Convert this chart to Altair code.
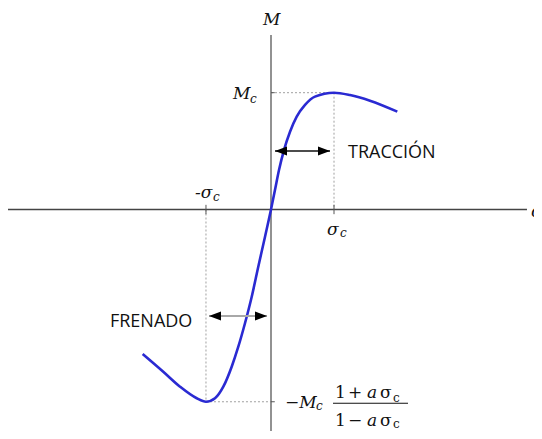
import altair as alt
import pandas as pd

# ---- curve (sigma in units of sigma_c, M in units of M_c)
sigma = [-2.037, -1.710, -1.444, -1.179, -1.032, -0.889, -0.757, -0.624, -0.519,
         -0.413, -0.306, -0.202, -0.095, 0.0, 0.063, 0.127, 0.206, 0.302, 0.408,
         0.540, 0.698, 1.0, 1.254, 1.571, 2.005]
moment = [-1.237, -1.389, -1.517, -1.616, -1.646, -1.616, -1.517, -1.346, -1.175,
          -0.974, -0.747, -0.490, -0.233, 0.0, 0.167, 0.338, 0.509, 0.666, 0.795,
          0.895, 0.966, 1.0, 0.980, 0.932, 0.838]

sigma_c_pos = 1.0
sigma_c_neg = -1.032
M_c = 1.0
M_min = -1.646

# annotation anchors (data units)
axis_x = [-4.1746, 4.063]
axis_y = [1.494, -1.8964]
trac_arrow = [0.063, 0.937, 0.501]
fren_arrow = [-0.984, -0.063, -0.912]

italic_text = ["M", "M", "-σ", "σ", "−M", "a", "a", "σ"]
italic_x = [-0.127, -0.603, -1.206, 0.889, 0.222, 1.524, 1.524, 4.127]
italic_y = [1.580, 0.946, 0.098, -0.218, -1.699, -1.616, -1.855, -0.064]

sub_text = ["c", "c", "c", "c"]
sub_x = [-0.333, -0.921, 1.095, 0.714]
sub_y = [0.912, 0.073, -0.235, -1.717]

reg_text = ["1", "+", "1", "−", "σ", "σ"]
reg_x = [1.016, 1.222, 1.016, 1.222, 1.730, 1.730]
reg_y = [-1.616, -1.616, -1.855, -1.855, -1.616, -1.855]
regsub_x = [1.937, 1.937]
regsub_y = [-1.648, -1.870]

label_text = ["TRACCIÓN", "FRENADO"]
label_x = [1.222, -2.556]
label_y = [0.438, -1.003]

frac_bar = [0.984, 2.175, -1.659]

W, H = 526, 423
xs = alt.Scale(domain=[-4.1746, 4.1746], nice=False, zero=False)
ys = alt.Scale(domain=[-1.8964, 1.7252], nice=False, zero=False)


def X(f):
    return alt.X(f, type="quantitative", scale=xs, axis=None)


def Y(f):
    return alt.Y(f, type="quantitative", scale=ys, axis=None)


def seg_layer(rows, **mk):
    df = pd.DataFrame(rows, columns=["x1", "y1", "x2", "y2"])
    return alt.Chart(df).mark_rule(**mk).encode(
        x=X("x1"), y=Y("y1"), x2="x2", y2="y2")


h_axis = seg_layer([[axis_x[0], 0, axis_x[1], 0]], color="#444444", strokeWidth=1.4)
v_axis = seg_layer([[0, axis_y[0], 0, axis_y[1]]], color="#777777", strokeWidth=1.6)

dotted = seg_layer([
    [sigma_c_pos, M_c, sigma_c_pos, 0],
    [0, M_c, sigma_c_pos, M_c],
    [sigma_c_neg, 0, sigma_c_neg, M_min],
    [sigma_c_neg, M_min, 0, M_min],
], color="#a0a0a0", strokeWidth=1, strokeDash=[2, 2])

ticks = seg_layer([
    [sigma_c_pos, 0.04, sigma_c_pos, -0.04],
    [sigma_c_neg, 0.04, sigma_c_neg, -0.04],
    [0, M_c, 0.06, M_c],
    [0, M_min, 0.06, M_min],
], color="#555555", strokeWidth=1)

bar = seg_layer([[frac_bar[0], frac_bar[2], frac_bar[1], frac_bar[2]]],
                color="#111111", strokeWidth=1.2)

arrow_t = seg_layer([[trac_arrow[0], trac_arrow[2], trac_arrow[1], trac_arrow[2]]],
                    color="#111111", strokeWidth=1.4)
arrow_f = seg_layer([[fren_arrow[0], fren_arrow[2], fren_arrow[1], fren_arrow[2]]],
                    color="#a8a8a8", strokeWidth=2)

HEAD = 6 / 63.0
left_heads = pd.DataFrame({"x": [trac_arrow[0] + HEAD, fren_arrow[0] + HEAD],
                           "y": [trac_arrow[2], fren_arrow[2]]})
right_heads = pd.DataFrame({"x": [trac_arrow[1] - HEAD, fren_arrow[1] - HEAD],
                            "y": [trac_arrow[2], fren_arrow[2]]})
lh = alt.Chart(left_heads).mark_point(
    shape="M-1,0L1,-0.75L1,0.75Z", filled=True, color="black", opacity=1, size=144
).encode(x=X("x"), y=Y("y"))
rh = alt.Chart(right_heads).mark_point(
    shape="M1,0L-1,-0.75L-1,0.75Z", filled=True, color="black", opacity=1, size=144
).encode(x=X("x"), y=Y("y"))

curve = alt.Chart(pd.DataFrame({"s": sigma, "m": moment})).mark_line(
    color="#2a2ad2", strokeWidth=2.6, interpolate="monotone"
).encode(x=X("s"), y=Y("m"), order=alt.Order("s:Q"))

SERIF = "DejaVu Serif"


def text_layer(texts, xv, yv, **mk):
    df = pd.DataFrame({"t": texts, "x": xv, "y": yv})
    return alt.Chart(df).mark_text(align="left", baseline="alphabetic", **mk).encode(
        x=X("x"), y=Y("y"), text="t:N")


t_italic = text_layer(italic_text, italic_x, italic_y, font=SERIF, fontStyle="italic",
                      fontSize=17, color="#111111")
t_sub = text_layer(sub_text, sub_x, sub_y, font=SERIF, fontStyle="italic",
                   fontSize=12, color="#111111")
t_reg = text_layer(reg_text, reg_x, reg_y, font=SERIF, fontSize=17, color="#111111")
t_regsub = text_layer(["c", "c"], regsub_x, regsub_y, font=SERIF, fontSize=12,
                      color="#111111")
t_label = text_layer(label_text, label_x, label_y, font="Open Sans", fontSize=18,
                     color="#111111")

chart = alt.layer(
    dotted, h_axis, v_axis, ticks, curve, arrow_t, arrow_f, lh, rh, bar,
    t_italic, t_sub, t_reg, t_regsub, t_label
).properties(
    width=W, height=H, autosize=alt.AutoSizeParams(type="none"), padding=0,
    background="white"
).configure_view(stroke=None)

chart.save("out.html", embed_options={"renderer": "svg", "actions": False})
